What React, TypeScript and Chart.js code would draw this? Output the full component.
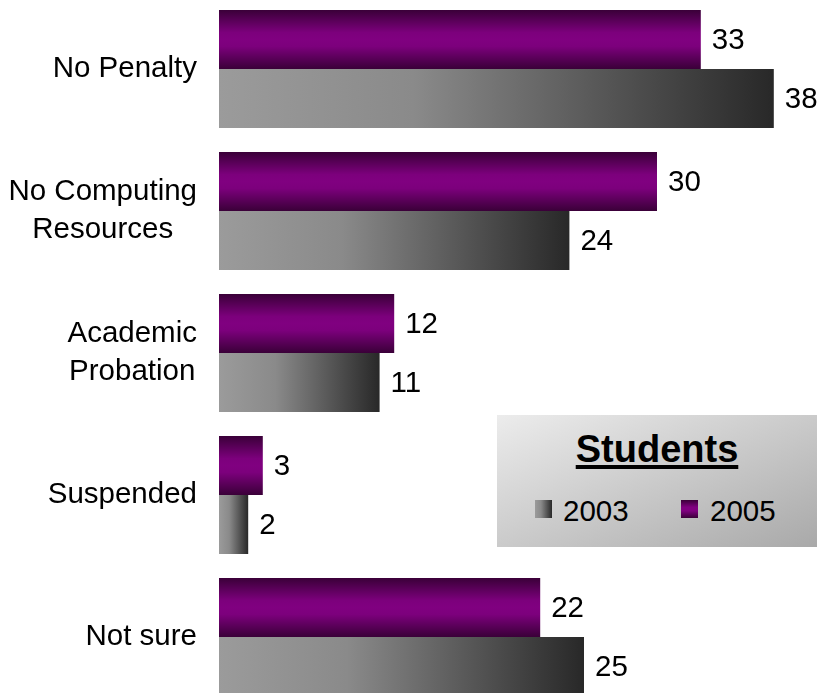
import React, { useEffect, useRef } from "react";
import { Chart, registerables } from "chart.js";

Chart.register(...registerables);

const categoryLabels: string[][] = [
  ["No Penalty"],
  ["No Computing", "Resources"],
  ["Academic", "Probation"],
  ["Suspended"],
  ["Not sure"],
];
const values2005 = [33, 30, 12, 3, 22];
const values2003 = [38, 24, 11, 2, 25];
const seriesNames = ["2003", "2005"];
const legendTitle = "Students";
const xMax = 40;

const FONT = '"Liberation Sans", Arial, sans-serif';
const CAT_PCT = 118 / 142;

function purpleFill(c: any) {
  const chart = c.chart;
  const { ctx, scales, chartArea } = chart;
  if (!chartArea || c.dataIndex === undefined) return "#800080";
  const y = scales.y;
  const center = y.getPixelForValue(c.dataIndex);
  const h = (y.height / categoryLabels.length) * CAT_PCT / 2;
  const top = center - h;
  const g = ctx.createLinearGradient(0, top, 0, top + h);
  g.addColorStop(0, "#3a0038");
  g.addColorStop(0.38, "#7c007c");
  g.addColorStop(0.5, "#800080");
  g.addColorStop(0.62, "#7c007c");
  g.addColorStop(1, "#3a0038");
  return g;
}

function grayFill(c: any) {
  const chart = c.chart;
  const { ctx, scales, chartArea } = chart;
  if (!chartArea || c.dataIndex === undefined) return "#777777";
  const x = scales.x;
  const x0 = x.getPixelForValue(0);
  const x1 = x.getPixelForValue(values2003[c.dataIndex]);
  const g = ctx.createLinearGradient(x0, 0, x1, 0);
  g.addColorStop(0, "#9b9b9b");
  g.addColorStop(0.35, "#8a8a8a");
  g.addColorStop(1, "#282828");
  return g;
}

const textPlugin = {
  id: "textPlugin",
  afterDraw(chart: any) {
    const { ctx, scales, chartArea } = chart;
    const y = scales.y;
    ctx.save();
    ctx.font = `29.5px ${FONT}`;
    ctx.fillStyle = "#000";
    ctx.textBaseline = "middle";
    const rightEdge = chartArea.left - 22;
    categoryLabels.forEach((lines, i) => {
      const cy = y.getPixelForValue(i);
      const widths = lines.map((l) => ctx.measureText(l).width);
      const bw = Math.max(...widths);
      const cx = rightEdge - bw / 2;
      ctx.textAlign = "center";
      lines.forEach((l, j) => {
        ctx.fillText(l, cx, cy + (j - (lines.length - 1) / 2) * 38);
      });
    });
    chart.data.datasets.forEach((ds: any, di: number) => {
      const meta = chart.getDatasetMeta(di);
      meta.data.forEach((bar: any, i: number) => {
        ctx.textAlign = "left";
        ctx.fillText(String(ds.data[i]), bar.x + 11, bar.y + 1);
      });
    });
    ctx.restore();
  },
};

export default function App() {
  const ref = useRef<HTMLCanvasElement | null>(null);
  useEffect(() => {
    if (!ref.current) return;
    const chart = new Chart(ref.current, {
      type: "bar",
      data: {
        labels: categoryLabels.map((l) => l.join(" ")),
        datasets: [
          {
            label: seriesNames[1],
            data: values2005,
            backgroundColor: purpleFill as any,
            borderWidth: 0,
            barPercentage: 1,
            categoryPercentage: CAT_PCT,
          },
          {
            label: seriesNames[0],
            data: values2003,
            backgroundColor: grayFill as any,
            borderWidth: 0,
            barPercentage: 1,
            categoryPercentage: CAT_PCT,
          },
        ],
      },
      options: {
        indexAxis: "y",
        responsive: false,
        animation: false,
        layout: { padding: { left: 219, right: 14, top: 0, bottom: 0 } },
        plugins: { legend: { display: false }, tooltip: { enabled: false } },
        scales: {
          x: { display: false, min: 0, max: xMax },
          y: { display: false },
        },
      },
      plugins: [textPlugin],
    });
    return () => chart.destroy();
  }, []);

  const legendText: React.CSSProperties = {
    position: "absolute",
    fontFamily: FONT,
    fontSize: "29.5px",
    lineHeight: "29.5px",
    color: "#000",
    whiteSpace: "nowrap",
  };

  return (
    <div
      style={{
        position: "fixed",
        left: 0,
        top: 0,
        width: 817,
        height: 693,
        overflow: "hidden",
        background: "#fff",
      }}
    >
      <canvas
        ref={ref}
        width={817}
        height={710}
        style={{ position: "absolute", left: 0, top: -2, width: 817, height: 710 }}
      />
      <div
        style={{
          position: "absolute",
          left: 497,
          top: 415,
          width: 320,
          height: 132,
          background: "linear-gradient(to bottom right, #ececec, #a9a9a9)",
        }}
      >
        <div
          style={{
            position: "absolute",
            left: 0,
            width: 320,
            top: 15,
            textAlign: "center",
            fontFamily: FONT,
            fontWeight: "bold",
            fontSize: "38px",
            lineHeight: "38px",
            color: "#000",
            textDecoration: "underline",
            textDecorationThickness: "4px",
            textUnderlineOffset: "3px",
          }}
        >
          {legendTitle}
        </div>
        <div
          style={{
            position: "absolute",
            left: 38,
            top: 85,
            width: 17,
            height: 18,
            background: "linear-gradient(to right, #9b9b9b, #8a8a8a 35%, #282828)",
          }}
        />
        <div style={{ ...legendText, left: 66, top: 81 }}>{seriesNames[0]}</div>
        <div
          style={{
            position: "absolute",
            left: 184,
            top: 85,
            width: 17,
            height: 18,
            background: "linear-gradient(to bottom, #3a0038, #800080 40%, #800080 60%, #3a0038)",
          }}
        />
        <div style={{ ...legendText, left: 213, top: 81 }}>{seriesNames[1]}</div>
      </div>
    </div>
  );
}
